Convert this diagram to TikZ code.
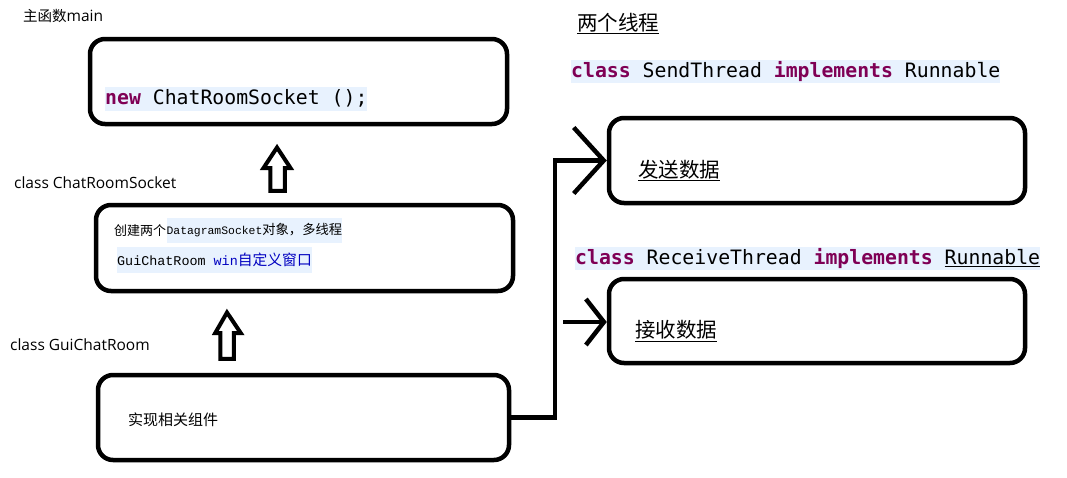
\documentclass[tikz,border=0pt]{standalone}
\usepackage{fontspec}
\usetikzlibrary{arrows.meta,calc}
\newfontfamily\cjk{Noto Sans CJK SC}
\newfontfamily\lat{Open Sans}
\newfontfamily\codef{DejaVu Sans Mono}
\newfontfamily\smono{Liberation Mono}
\definecolor{kw}{HTML}{7F0055}
\definecolor{codebg}{HTML}{E8F2FE}
\definecolor{winblue}{HTML}{0000C0}
\begin{document}
\begin{tikzpicture}[x=1pt,y=-1pt,
  box/.style={draw, line width=4.5pt, rounded corners=15pt, minimum width=417pt, minimum height=85pt, inner sep=0pt},
  lbl/.style={anchor=west, inner sep=0pt, font=\lat\fontsize{15.5}{17}\selectfont},
  cjklbl/.style={anchor=west, inner sep=0pt, font=\cjk\fontsize{15}{17}\selectfont},
  bigcjk/.style={anchor=west, inner sep=0pt, font=\cjk\fontsize{20.5}{22}\selectfont},
  code/.style={anchor=west, inner sep=0pt, fill=codebg, minimum height=24pt, font=\codef\fontsize{19.8}{21}\selectfont},
  uline/.style={line width=1.2pt},
  blockarrow/.style={draw, line width=4pt, line join=miter},
  conn/.style={draw, line width=4.5pt}
]
\useasboundingbox (0,0) rectangle (1067,477);

% boxes
\node[box] (b1) at (298.5,81.5) {};
\node[box, minimum height=86pt] (b2) at (304.5,248) {};
\node[box, minimum width=411pt] (b3) at (303.5,417.5) {};
\node[box, minimum width=416pt] (send) at (817,160.5) {};
\node[box, minimum width=416pt, minimum height=84pt] (recv) at (817,321) {};

% labels
\node[anchor=west, inner sep=0pt] (lmain) at (23,16) {{\cjk\fontsize{14.5}{17}\selectfont 主函数}{\lat\fontsize{15.5}{17}\selectfont main}};
\node[lbl] (lcrs) at (14,183) {class ChatRoomSocket};
\node[lbl] (lgui) at (10,345) {class GuiChatRoom};

% box 1 text
\node[code] (c1) at (105,98.5) {\textbf{\color{kw}new} ChatRoomSocket ();};

% box 2 text
\node[anchor=west, inner sep=0pt, font=\cjk\fontsize{13}{14}\selectfont] (l1a) at (114,230.5) {创建两个};
\node[anchor=west, inner sep=0pt, fill=codebg, minimum height=25pt, font=\cjk\fontsize{13.3}{14}\selectfont] (l1b) at (l1a.east) {{\smono\fontsize{11.4}{12}\selectfont DatagramSocket}对象，多线程};
\node[anchor=west, inner sep=0pt, fill=codebg, minimum height=26pt] (l2) at (117,260) {{\smono\fontsize{13.4}{14}\selectfont GuiChatRoom \color{winblue}win}{\cjk\fontsize{14.8}{15}\selectfont\color{winblue}自定义窗口}};

% box 3 text
\node[cjklbl] (t3) at (128,420) {实现相关组件};

% right side
\node[bigcjk] (two) at (577,22.5) {两个线程};
\draw[uline] ([yshift=-1.5pt]two.south west) -- ([yshift=-1.5pt]two.south east);
\node[code, minimum height=23pt] (cs) at (571,71.5) {\textbf{\color{kw}class} SendThread \textbf{\color{kw}implements} Runnable};
\node[code, minimum height=23pt] (cr) at (575,258.5) {\textbf{\color{kw}class} ReceiveThread \textbf{\color{kw}implements} \underline{Runnable}};

\node[bigcjk] (ts) at (638,169.5) {发送数据};
\draw[uline] ([yshift=-1.5pt]ts.south west) -- ([yshift=-1.5pt]ts.south east);
\node[bigcjk] (tr) at (635,330) {接收数据};
\draw[uline] ([yshift=-1.5pt]tr.south west) -- ([yshift=-1.5pt]tr.south east);

% block arrows
\draw[blockarrow] (270.25,190.75) -- (270.25,168) -- (263.5,168) -- (277,147.5) -- (290.5,168) -- (284.75,168) -- (284.75,190.75) -- cycle;
\draw[blockarrow] (220.25,358.75) -- (220.25,333) -- (215.25,333) -- (227,312.5) -- (240.75,333) -- (233.75,333) -- (233.75,358.75) -- cycle;

% connectors
\coordinate (bend) at (555,417);
\draw[conn, -{Straight Barb[length=30pt,width=66pt]}] (b3.east) -- (b3.east -| bend) -- (bend |- send.west) -- (send.west);
\coordinate (rstart) at (563,322);
\draw[conn, -{Straight Barb[length=18pt,width=46pt]}] (rstart) -- (rstart -| recv.west);
\end{tikzpicture}
\end{document}
